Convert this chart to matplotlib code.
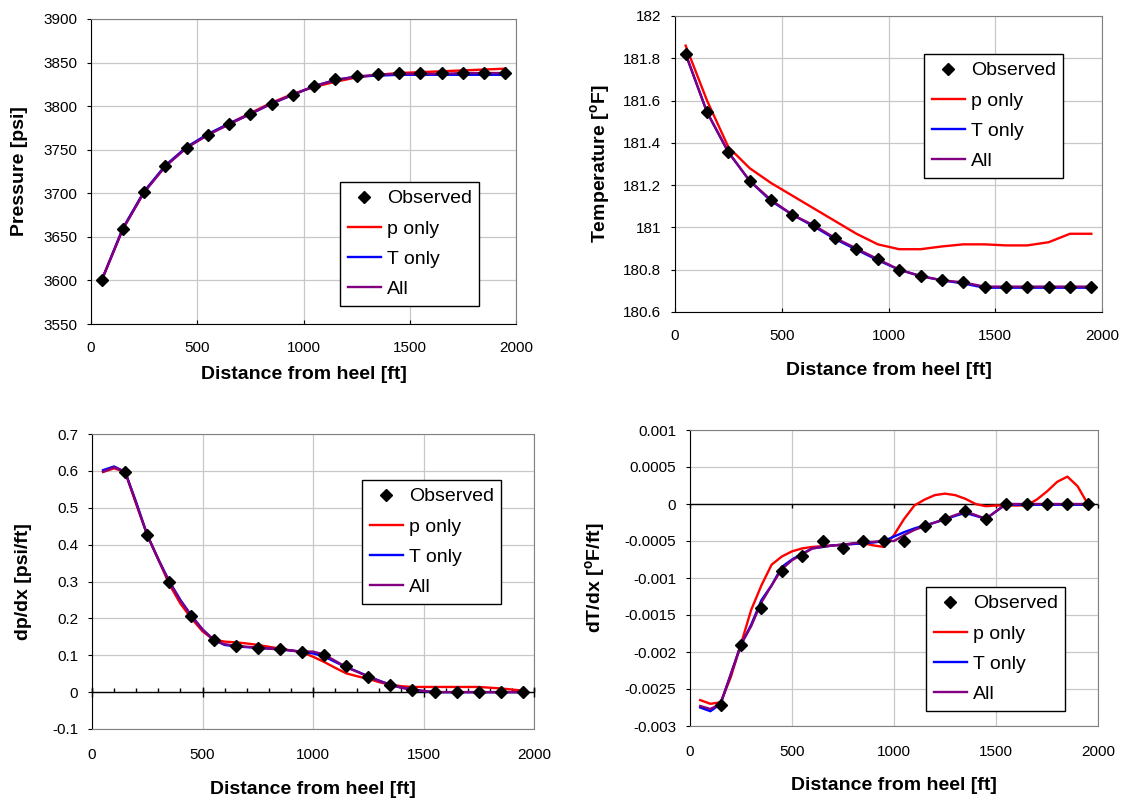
import matplotlib.pyplot as plt
from matplotlib.ticker import MultipleLocator, FuncFormatter

plt.rcParams['font.family'] = ['Liberation Sans', 'DejaVu Sans']
plt.rcParams['mathtext.fontset'] = 'custom'
plt.rcParams['mathtext.rm'] = 'Liberation Sans'
plt.rcParams['mathtext.bf'] = 'Liberation Sans:bold'

# ---- data ----
x_obs = [50, 150, 250, 350, 450, 550, 650, 750, 850, 950,
         1050, 1150, 1250, 1350, 1450, 1550, 1650, 1750, 1850, 1950]
x_obs_grad = x_obs[1:]
x_model = [50, 100, 150, 200, 250, 300, 350, 400, 450, 500,
           550, 600, 650, 700, 750, 800, 850, 900, 950, 1000,
           1050, 1100, 1150, 1200, 1250, 1300, 1350, 1400, 1450, 1500,
           1550, 1600, 1650, 1700, 1750, 1800, 1850, 1900, 1950]

p_obs = [3600, 3659, 3701, 3731, 3752, 3767, 3779, 3791, 3803, 3813,
         3823, 3831, 3835, 3837, 3838, 3838, 3838, 3838, 3838, 3838]
p_ponly = [3600, 3659, 3702, 3731, 3753, 3767, 3780, 3792, 3804, 3814,
           3822, 3828, 3833, 3836, 3838, 3839, 3840, 3841, 3842, 3843]
p_tonly = [3600, 3660, 3702, 3732, 3753, 3768, 3780, 3791, 3803, 3813,
           3823, 3830, 3834, 3835, 3836, 3836, 3836, 3836, 3836, 3836]
p_all = [3600, 3659, 3701, 3731, 3752, 3767, 3779, 3791, 3803, 3813,
         3823, 3830, 3834, 3836, 3837, 3837, 3837, 3838, 3838, 3838]

t_obs = [181.82, 181.545, 181.356, 181.22, 181.13, 181.06, 181.01, 180.95, 180.90, 180.85,
         180.80, 180.77, 180.75, 180.74, 180.72, 180.72, 180.72, 180.72, 180.72, 180.72]
t_ponly = [181.86, 181.60, 181.38, 181.28, 181.21, 181.15, 181.09, 181.03, 180.97, 180.92,
           180.897, 180.897, 180.91, 180.92, 180.92, 180.915, 180.915, 180.93, 180.97, 180.97]
t_tonly = [181.82, 181.545, 181.356, 181.22, 181.125, 181.06, 181.005, 180.945, 180.895, 180.845,
           180.80, 180.77, 180.75, 180.735, 180.715, 180.715, 180.715, 180.715, 180.715, 180.715]
t_all = [181.82, 181.545, 181.356, 181.22, 181.13, 181.06, 181.01, 180.95, 180.90, 180.85,
         180.80, 180.77, 180.75, 180.74, 180.72, 180.72, 180.72, 180.72, 180.72, 180.72]

dp_obs = [0.597, 0.426, 0.299, 0.207, 0.142, 0.126, 0.12, 0.116, 0.109, 0.102,
          0.07, 0.042, 0.02, 0.007, 0, 0, 0, 0, 0]
dp_ponly = [0.597, 0.607, 0.597, 0.51, 0.426, 0.36, 0.292, 0.24, 0.2, 0.165,
            0.142, 0.137, 0.135, 0.132, 0.128, 0.123, 0.118, 0.113, 0.108, 0.096,
            0.082, 0.066, 0.051, 0.043, 0.036, 0.027, 0.02, 0.016, 0.014, 0.014,
            0.014, 0.014, 0.014, 0.014, 0.014, 0.012, 0.01, 0.007, 0.004]
dp_tonly = [0.602, 0.612, 0.597, 0.515, 0.426, 0.36, 0.3, 0.25, 0.207, 0.17,
            0.142, 0.128, 0.124, 0.122, 0.12, 0.118, 0.116, 0.113, 0.109, 0.105,
            0.097, 0.082, 0.068, 0.056, 0.043, 0.031, 0.02, 0.012, 0.007, 0.003,
            0, 0, 0, 0, 0, 0, 0, 0, 0]
dp_all = [0.598, 0.61, 0.597, 0.512, 0.426, 0.36, 0.299, 0.248, 0.207, 0.17,
          0.142, 0.13, 0.126, 0.123, 0.121, 0.118, 0.116, 0.113, 0.11, 0.11,
          0.102, 0.085, 0.068, 0.055, 0.042, 0.03, 0.02, 0.012, 0.007, 0.003,
          0, 0, 0, 0, 0, 0, 0, 0, 0]

dt_obs = [-0.00271, -0.0019, -0.0014, -0.0009, -0.0007, -0.0005, -0.0006, -0.0005, -0.0005, -0.0005,
          -0.0003, -0.0002, -0.0001, -0.0002, 0, 0, 0, 0, 0]
dt_ponly = [-0.00265, -0.0027, -0.00268, -0.00234, -0.00189, -0.00143, -0.0011, -0.00082, -0.00071, -0.00064,
            -0.0006, -0.00058, -0.00057, -0.00056, -0.00055, -0.00054, -0.00053, -0.00056, -0.00058, -0.00042,
            -0.0002, -0.00002, 0.00006, 0.00012, 0.00014, 0.00012, 0.00007, 0.0, -0.00003, -0.00002,
            -0.00002, -0.00002, -0.00002, 0.00006, 0.00017, 0.0003, 0.00037, 0.00024, 0.0]
dt_tonly = [-0.00275, -0.0028, -0.0027, -0.0023, -0.0019, -0.00163, -0.0013, -0.0011, -0.00085, -0.00075,
            -0.00067, -0.0006, -0.00058, -0.00056, -0.00055, -0.00054, -0.00053, -0.00052, -0.0005, -0.00044,
            -0.00038, -0.00033, -0.00029, -0.00025, -0.00021, -0.00016, -0.00012, -0.00016, -0.0002, -0.0001,
            0.0, -0.00001, -0.00001, -0.00001, -0.00001, -0.00001, -0.00001, -0.00001, -0.00001]
dt_all = [-0.00273, -0.00277, -0.0027, -0.0023, -0.0019, -0.00165, -0.00133, -0.0011, -0.00088, -0.00076,
          -0.00068, -0.0006, -0.00058, -0.00056, -0.00055, -0.00053, -0.00052, -0.00051, -0.0005, -0.0005,
          -0.00042, -0.00035, -0.0003, -0.00025, -0.0002, -0.00015, -0.0001, -0.00015, -0.0002, -0.0001,
          0, 0, 0, 0, 0, 0, 0, 0, 0]

W, H = 1122, 801


def px_rect(l, t, r, b):
    return [l / W, 1 - b / H, (r - l) / W, (b - t) / H]


def fmt(v, pos):
    return '%g' % round(v, 6)


def zero_line_ticks(ax, step, marker, size):
    # tick marks drawn on the y=0 axis line (Excel style)
    ticks = [t for t in MultipleLocator(step).tick_values(0, 2000) if 0 <= t <= 2000]
    ax.plot(ticks, [0] * len(ticks), linestyle='', marker=marker, markersize=size,
            markeredgewidth=1.0, color='black', zorder=2.6, clip_on=False)


def panel(fig, box, xo, obs, xm, ponly, tonly, allv, ylim, ystep, ylabel,
          leg_xy, ylabel_x, xlabelpad, zero_axis=None):
    ax = fig.add_axes(px_rect(*box))
    ax.plot(xm, ponly, color='#ff0000', lw=1.7, label='p only', zorder=3)
    ax.plot(xm, tonly, color='#0000ff', lw=1.7, label='T only', zorder=4)
    ax.plot(xm, allv, color='#800080', lw=1.7, label='All', zorder=5)
    ax.plot(xo, obs, linestyle='', marker='D', color='black', markersize=6.5,
            label='Observed', zorder=6)
    ax.set_xlim(0, 2000)
    ax.set_ylim(*ylim)
    ax.xaxis.set_major_locator(MultipleLocator(500))
    ax.yaxis.set_major_locator(MultipleLocator(ystep))
    ax.yaxis.set_major_formatter(FuncFormatter(fmt))
    ax.grid(True, color='#c8c8c8', lw=0.9)
    ax.set_axisbelow(True)
    for s in ['top', 'right']:
        ax.spines[s].set_color('#808080')
    ax.spines['left'].set_color('black')
    ax.tick_params(axis='y', direction='out', length=3, pad=7, labelsize=11)
    if zero_axis is None:
        ax.spines['bottom'].set_color('black')
        ax.tick_params(axis='x', direction='in', length=3, pad=12, labelsize=11)
    else:
        ax.spines['bottom'].set_color('#808080')
        ax.tick_params(axis='x', length=0, pad=14, labelsize=11)
        ax.axhline(0, color='black', lw=1.0, zorder=2.5)
        for step, marker, size in zero_axis:
            zero_line_ticks(ax, step, marker, size)
    ax.set_xlabel('Distance from heel [ft]', fontsize=14, fontweight='bold',
                  labelpad=xlabelpad)
    ax.set_ylabel(ylabel, fontsize=14, fontweight='bold')
    ax.yaxis.set_label_coords((ylabel_x - box[0]) / (box[2] - box[0]), 0.5)

    h, lab = ax.get_legend_handles_labels()
    order = [3, 0, 1, 2]
    leg = ax.legend([h[i] for i in order], [lab[i] for i in order],
                    loc='upper left',
                    bbox_to_anchor=(leg_xy[0] / W, 1 - leg_xy[1] / H),
                    bbox_transform=fig.transFigure, fontsize=14,
                    frameon=True, fancybox=False, edgecolor='black',
                    framealpha=1, handlelength=1.7, handletextpad=0.3,
                    labelspacing=0.65, borderpad=0.4, borderaxespad=0)
    leg.get_frame().set_linewidth(1.0)
    return ax


fig = plt.figure(figsize=(11.22, 8.01), dpi=100)

panel(fig, (91, 19, 516, 324), x_obs, p_obs, x_obs, p_ponly, p_tonly, p_all,
      (3550, 3900), 50, 'Pressure [psi]', (340, 182), 28, 8)
panel(fig, (675, 16, 1102, 312), x_obs, t_obs, x_obs, t_ponly, t_tonly, t_all,
      (180.6, 182), 0.2, r'Temperature [$^{\mathbf{o}}$F]', (924, 54), 613, 14)
panel(fig, (92, 434, 534, 729), x_obs_grad, dp_obs, x_model, dp_ponly, dp_tonly, dp_all,
      (-0.1, 0.7), 0.1, 'dp/dx [psi/ft]', (362, 480), 32, 13,
      zero_axis=[(100, 2, 3), (500, '|', 7)])
panel(fig, (690, 430, 1098, 726), x_obs_grad, dt_obs, x_model, dt_ponly, dt_tonly, dt_all,
      (-0.003, 0.001), 0.0005, r'dT/dx [$^{\mathbf{o}}$F/ft]', (926, 587), 608, 13,
      zero_axis=[(500, 3, 3)])

fig.savefig('out.png', dpi=100)
